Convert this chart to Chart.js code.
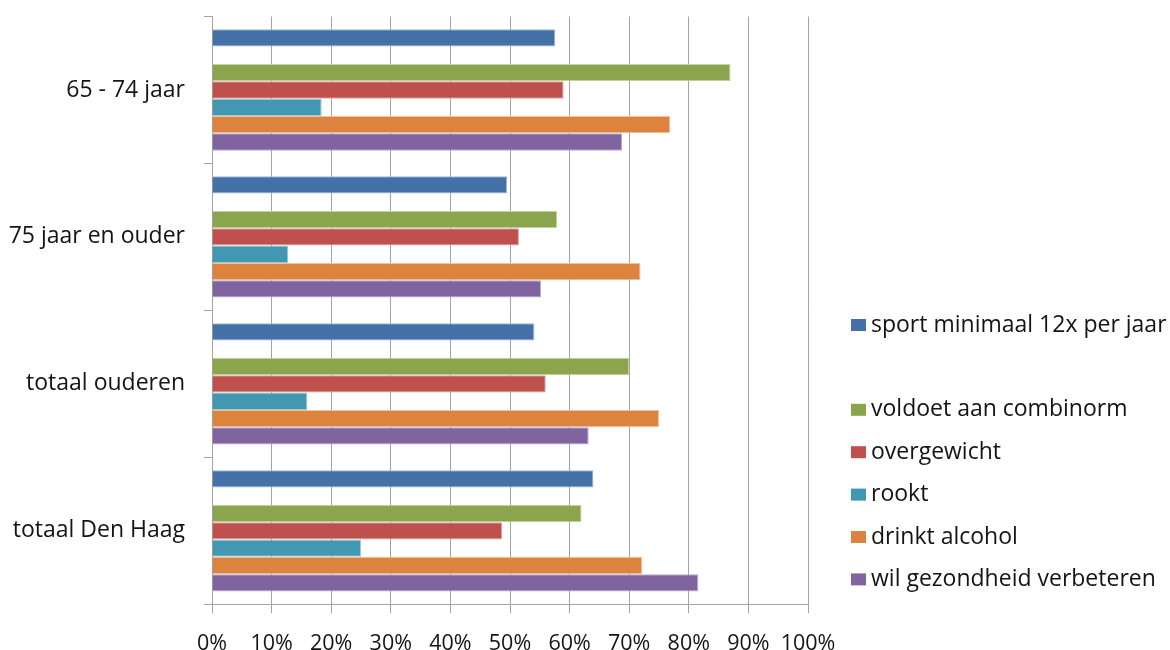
<!DOCTYPE html>
<html>
<head>
<meta charset="utf-8">
<title>Leefstijl ouderen</title>
<script src="https://cdn.jsdelivr.net/npm/chart.js@4/dist/chart.umd.min.js"></script>
<style>
  html, body { margin: 0; padding: 0; background: #ffffff; }
  #wrap { width: 1170px; height: 650px; position: relative; }
</style>
</head>
<body>
<div id="wrap"><canvas id="c"></canvas></div>
<script>
// ---- data ----
const categories = ['65 - 74 jaar', '75 jaar en ouder', 'totaal ouderen', 'totaal Den Haag'];
const seriesNames = ['sport minimaal 12x per jaar', '', 'voldoet aan combinorm', 'overgewicht', 'rookt', 'drinkt alcohol', 'wil gezondheid verbeteren'];
const sport      = [57.6, 49.5, 54.1, 64.0];
const leeg       = [null, null, null, null];
const combinorm  = [87.0, 57.9, 70.0, 62.0];
const overgewicht= [59.0, 51.5, 56.0, 48.7];
const rookt      = [18.4, 12.8, 16.0, 25.0];
const alcohol    = [76.9, 71.9, 75.0, 72.2];
const verbeteren = [68.8, 55.2, 63.2, 81.6];
const xTicks     = [0, 10, 20, 30, 40, 50, 60, 70, 80, 90, 100];

// ---- styles ----
const fills   = ['#4472A8', 'rgba(0,0,0,0)', '#8AA54E', '#BE504D', '#4298B0', '#DC843E', '#8064A0'];
const borders = ['#9FB6D6', 'rgba(0,0,0,0)', '#C3D4A3', '#E2A6A4', '#9CCCDA', '#F2C09A', '#BBA9D0'];
const seriesData = [sport, leeg, combinorm, overgewicht, rookt, alcohol, verbeteren];
const FONT = '"Open Sans", "DejaVu Sans", sans-serif';
const TEXT = '#141414';
const GRID = '#A3A3A3';

const datasets = seriesData.map((d, i) => ({
  label: seriesNames[i],
  data: d,
  backgroundColor: fills[i],
  borderColor: borders[i],
  borderWidth: i === 1 ? 0 : 1,
  categoryPercentage: 0.826,
  barPercentage: 1.0
}));

// legend drawn on the right, one row per series (the blank series keeps its empty slot)
const sideLegend = {
  id: 'sideLegend',
  afterDraw(chart) {
    const ctx = chart.ctx;
    const x0 = 851, y0 = 325, step = 42.4;
    ctx.save();
    ctx.font = '23px ' + FONT;
    ctx.textBaseline = 'middle';
    ctx.textAlign = 'left';
    chart.data.datasets.forEach((ds, i) => {
      const y = y0 + i * step;
      if (!ds.label) return;
      ctx.fillStyle = ds.backgroundColor;
      ctx.fillRect(x0, y - 6, 15, 12);
      ctx.fillStyle = TEXT;
      ctx.fillText(ds.label, x0 + 20, y);
    });
    ctx.restore();
  }
};

new Chart(document.getElementById('c'), {
  type: 'bar',
  data: { labels: categories, datasets },
  plugins: [sideLegend],
  options: {
    indexAxis: 'y',
    responsive: true,
    maintainAspectRatio: false,
    animation: false,
    layout: { padding: { top: 16.5, right: 362, bottom: 0, left: 0 } },
    plugins: {
      legend: { display: false },
      tooltip: { enabled: false },
      title: { display: false }
    },
    scales: {
      x: {
        min: 0,
        max: 100,
        afterBuildTicks(scale) { scale.ticks = xTicks.map(v => ({ value: v })); },
        afterFit(scale) { scale.height = 45.7; },
        ticks: {
          callback: v => v + '%',
          color: TEXT,
          font: { family: FONT, size: 21.5 },
          padding: 17.5,
          maxRotation: 0,
          autoSkip: false
        },
        grid: { color: GRID, lineWidth: 1, tickLength: 9, drawTicks: true },
        border: { color: GRID, width: 1 }
      },
      y: {
        afterFit(scale) {
          scale.width = 212;
          scale.paddingTop = 0;
          scale.paddingBottom = 0;
        },
        ticks: {
          color: TEXT,
          font: { family: FONT, size: 23 },
          padding: 19
        },
        grid: { display: true, drawOnChartArea: false, drawTicks: true, tickLength: 8, color: GRID, offset: true },
        border: { color: GRID, width: 1 }
      }
    }
  }
});
</script>
</body>
</html>
